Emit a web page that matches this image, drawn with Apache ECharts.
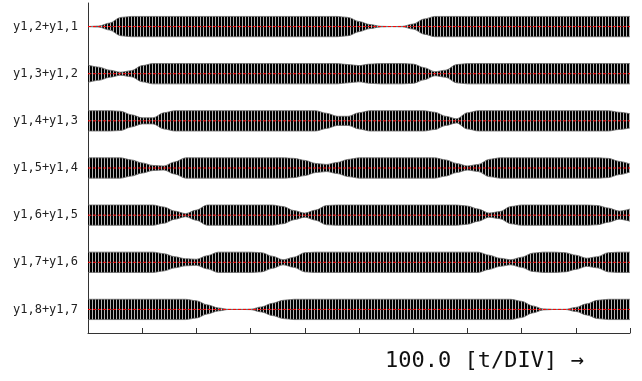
<!DOCTYPE html>
<html>
<head>
<meta charset="utf-8">
<script src="https://cdn.jsdelivr.net/npm/echarts@6/dist/echarts.min.js"></script>
<style>
  html, body { margin: 0; padding: 0; background: #fff; }
  #chart { width: 642px; height: 381px; }
</style>
</head>
<body>
<div id="chart"></div>
<script>
// sample times (t), one every 20 t
const times = [0, 20, 40, 60, 80, 100, 120, 140, 160, 180, 200, 220, 240, 260, 280, 300, 320, 340, 360, 380,
  400, 420, 440, 460, 480, 500, 520, 540, 560, 580, 600, 620, 640, 660, 680, 700, 720, 740, 760, 780,
  800, 820, 840, 860, 880, 900, 920, 940, 960, 980, 1000];

const rowLabels = ['y1,2+y1,1', 'y1,3+y1,2', 'y1,4+y1,3', 'y1,5+y1,4', 'y1,6+y1,5', 'y1,7+y1,6', 'y1,8+y1,7'];
const rowCenters = [6.5, 5.5, 4.5, 3.5, 2.5, 1.5, 0.5];

// envelope of each trace (1 = full height of the band)
const env1 = [0, 0.05, 0.35, 0.9, 1, 1, 1, 1, 1, 1, 1, 1, 1, 1, 1, 1, 1, 1, 1, 1, 1, 1, 1, 1,
  0.9, 0.5, 0.2, 0.03, 0, 0.02, 0.25, 0.75, 1, 1, 1, 1, 1, 1, 1, 1, 1, 1, 1, 1, 1, 1, 1, 1, 1, 1, 1];
const env2 = [0.85, 0.65, 0.35, 0.15, 0.3, 0.8, 1, 1, 1, 1, 1, 1, 1, 1, 1, 1, 1, 1, 1, 1, 1, 1, 1, 1,
  0.9, 0.8, 0.95, 1, 1, 1, 0.95, 0.6, 0.2, 0.35, 0.9, 1, 1, 1, 1, 1, 1, 1, 1, 1, 1, 1, 1, 1, 1, 1, 1];
const env3 = [1, 1, 1, 0.95, 0.6, 0.3, 0.3, 0.8, 1, 1, 1, 1, 1, 1, 1, 1, 1, 1, 1, 1, 1, 1,
  0.75, 0.45, 0.45, 0.8, 1, 1, 1, 1, 1, 1, 0.85, 0.45, 0.2, 0.8, 1, 1, 1, 1, 1, 1, 1, 1, 1, 1, 1, 1, 1, 0.85, 0.7];
const env4 = [1, 1, 1, 1, 0.8, 0.5, 0.25, 0.2, 0.6, 1, 1, 1, 1, 1, 1, 1, 1, 1, 1,
  0.95, 0.75, 0.45, 0.35, 0.55, 0.85, 1, 1, 1, 1, 1, 1, 1, 1, 0.8, 0.45, 0.2, 0.35, 0.85,
  1, 1, 1, 1, 1, 1, 1, 1, 1, 1, 0.95, 0.65, 0.4];
const env5 = [1, 1, 1, 1, 1, 1, 1, 0.8, 0.4, 0.15, 0.5, 1, 1, 1, 1, 1, 1, 1,
  0.85, 0.45, 0.2, 0.5, 0.95, 1, 1, 1, 1, 1, 1, 1, 1, 1, 1, 1, 1, 0.9, 0.6, 0.2, 0.35, 0.85,
  1, 1, 1, 1, 1, 1, 1, 0.95, 0.7, 0.4, 0.6];
const env6 = [1, 1, 1, 1, 1, 1, 1, 0.85, 0.55, 0.35, 0.3, 0.65, 1, 1, 1, 1,
  0.95, 0.6, 0.25, 0.5, 0.95, 1, 1, 1, 1, 1, 1, 1, 1, 1, 1, 1, 1, 1, 1, 1, 1,
  0.7, 0.4, 0.25, 0.5, 0.9, 1, 1, 0.95, 0.7, 0.4, 0.55, 0.95, 1, 1];
const env7 = [1, 1, 1, 1, 1, 1, 1, 1, 1, 1, 0.85, 0.45, 0.15, 0, 0, 0.02, 0.25, 0.6, 0.9,
  1, 1, 1, 1, 1, 1, 1, 1, 1, 1, 1, 1, 1, 1, 1, 1, 1, 1, 1, 1, 1,
  0.8, 0.35, 0.05, 0, 0, 0.2, 0.55, 0.9, 1, 1, 1, 1].slice(0, 51);

const envelopes = [env1, env2, env3, env4, env5, env6, env7];
const halfHeight = 0.215; // band half height, in row units

// stripe fill that stands in for the dense oscillation
const stripe = document.createElement('canvas');
stripe.width = 3;
stripe.height = 4;
const sctx = stripe.getContext('2d');
sctx.fillStyle = '#b4b4b4';
sctx.fillRect(0, 0, 3, 4);
sctx.fillStyle = '#000';
sctx.fillRect(0, 0, 2, 4);

const chartDom = document.getElementById('chart');
const myChart = echarts.init(chartDom, null, { renderer: 'canvas' });

let series = [];
envelopes.forEach((env, r) => {
  const c = rowCenters[r];
  ['up', 'down'].forEach((side) => {
    const sign = side === 'up' ? 1 : -1;
    series.push({
      name: rowLabels[r] + '-' + side,
      type: 'line',
      data: times.map((t, i) => [t, c + sign * halfHeight * env[i]]),
      showSymbol: false,
      smooth: 0.3,
      smoothMonotone: 'x',
      lineStyle: { color: '#666', width: 0.8 },
      areaStyle: { origin: c, color: { image: stripe, repeat: 'repeat' }, opacity: 1 },
      z: 2,
      silent: true
    });
  });
  series.push({
    name: rowLabels[r] + '-zero',
    type: 'line',
    data: [[times[0], c], [times[times.length - 1], c]],
    showSymbol: false,
    lineStyle: { color: '#ff0000', width: 1, type: [3, 2] },
    z: 3,
    silent: true
  });
});

let option = {
  animation: false,
  backgroundColor: '#fff',
  title: {
    text: '100.0 [t/DIV] →',
    left: 380,
    top: 345,
    textStyle: {
      fontFamily: 'DejaVu Sans Mono',
      fontSize: 22,
      fontWeight: 'normal',
      color: '#111'
    }
  },
  grid: {
    left: 88,
    right: 12,
    top: 3,
    bottom: 48
  },
  xAxis: {
    type: 'value',
    min: 0,
    max: 1000,
    interval: 100,
    axisLine: { lineStyle: { color: '#333', width: 1 } },
    axisTick: { inside: true, length: 5, lineStyle: { color: '#333' } },
    axisLabel: { show: false },
    splitLine: { show: false }
  },
  yAxis: {
    type: 'value',
    min: 0,
    max: 7,
    interval: 0.5,
    axisLine: { show: true, lineStyle: { color: '#333', width: 1 } },
    axisTick: { show: false },
    splitLine: { show: false },
    axisLabel: {
      margin: 10,
      fontFamily: 'DejaVu Sans Mono',
      fontSize: 12,
      color: '#222',
      formatter: (v) => {
        if (Math.round(v * 2) % 2 !== 1) return '';
        return rowLabels[6 - Math.floor(v)];
      }
    }
  },
  series: series
};

option && myChart.setOption(option);
</script>
</body>
</html>
